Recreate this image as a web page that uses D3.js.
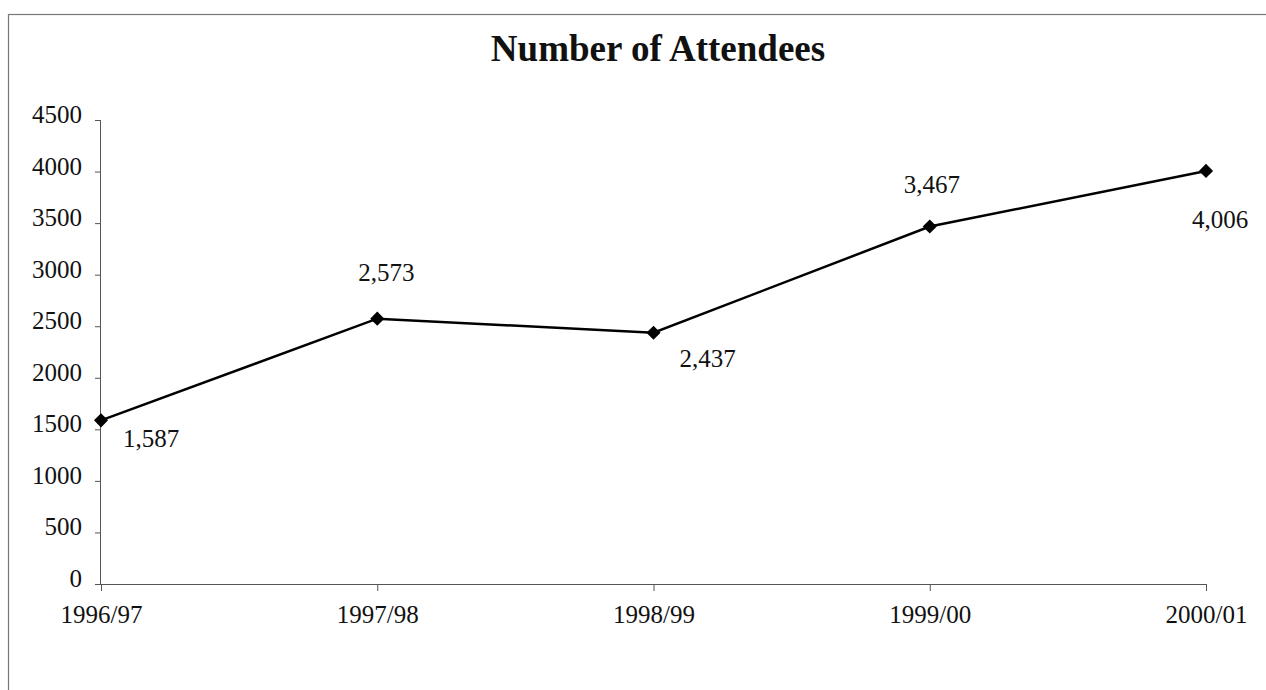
<!DOCTYPE html>
<html><head><meta charset="utf-8">
<script src="https://cdn.jsdelivr.net/npm/d3@7/dist/d3.min.js"></script>
<style>body{margin:0;background:#fff}svg{display:block}text{font-family:"Liberation Serif","Times New Roman",serif;fill:#111}</style>
</head><body><svg id="c" width="1266" height="690"></svg>
<script>
const categories = ["1996/97","1997/98","1998/99","1999/00","2000/01"];
const values = [1587, 2573, 2437, 3467, 4006];
const yTicks = [0,500,1000,1500,2000,2500,3000,3500,4000,4500];
const labelDx = [50, 9, 54, 2, 14];
const labelDy = [27, -38, 34, -34, 57];

const svg = d3.select("#c");
svg.append("rect").attr("x",8.5).attr("y",14.5).attr("width",1270).attr("height",700)
  .attr("fill","none").attr("stroke","#777").attr("stroke-width",1.2);

const x = d3.scalePoint().domain(categories).range([101,1206]);
const y = d3.scaleLinear().domain([0,4500]).range([584,120]);

svg.append("text").attr("x",658).attr("y",61).attr("text-anchor","middle")
  .style("font-size","37px").style("font-weight","bold").text("Number of Attendees");

const ya = svg.append("g").attr("transform","translate(101,0)")
  .call(d3.axisLeft(y).tickValues(yTicks).tickSize(6).tickPadding(13).tickFormat(d3.format("d")));
ya.select(".domain").attr("stroke","#555").attr("d","M-0.5,584V120");
ya.selectAll(".tick line").attr("stroke","#555");
ya.selectAll(".tick text").style("font-size","25px").attr("fill","#111").attr("dy","0.1em");

const xa = svg.append("g").attr("transform","translate(0,584)")
  .call(d3.axisBottom(x).tickSize(7).tickPadding(14));
xa.select(".domain").attr("stroke","#555").attr("d","M101,0.5H1206");
xa.selectAll(".tick line").attr("stroke","#555");
xa.selectAll(".tick text").style("font-size","25px").attr("fill","#111");

const line = d3.line().x((d,i)=>x(categories[i])).y(d=>y(d));
svg.append("path").datum(values).attr("d",line).attr("fill","none").attr("stroke","#000").attr("stroke-width",2.5);

svg.selectAll(".pt").data(values).enter().append("path")
  .attr("d",d3.symbol().type(d3.symbolSquare).size(100))
  .attr("transform",(d,i)=>`translate(${x(categories[i])},${y(d)}) rotate(45)`)
  .attr("fill","#000");

const fmt = d3.format(",");
svg.selectAll(".lbl").data(values).enter().append("text")
  .attr("x",(d,i)=>x(categories[i]) + labelDx[i])
  .attr("y",(d,i)=>y(d) + labelDy[i])
  .attr("text-anchor","middle").style("font-size","25px")
  .text(d=>fmt(d));
</script></body></html>
